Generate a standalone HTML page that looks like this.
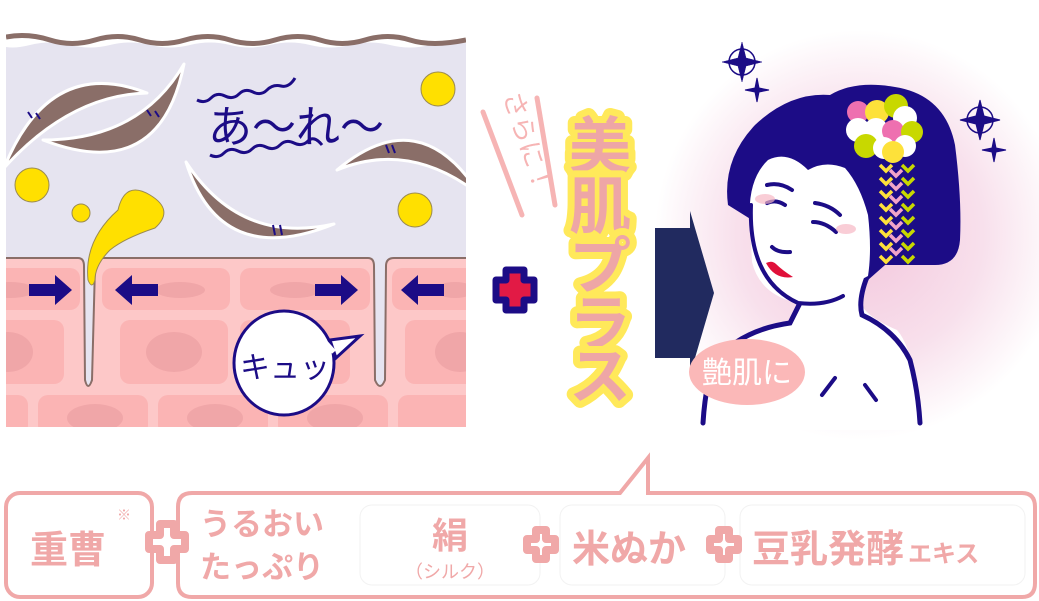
<!DOCTYPE html>
<html><head><meta charset="utf-8"><style>
html,body{margin:0;padding:0;background:#fff;}
svg{display:block;}
text{font-family:"Liberation Sans","Noto Sans CJK JP",sans-serif;}
</style></head><body>
<svg width="1039" height="601" viewBox="0 0 1039 601" xmlns="http://www.w3.org/2000/svg">
<defs>
<radialGradient id="glow" cx="0.5" cy="0.5" r="0.5">
<stop offset="0" stop-color="#f3c6dc"/><stop offset="0.6" stop-color="#f8e0ec"/><stop offset="1" stop-color="#ffffff"/>
</radialGradient>
<clipPath id="panel"><rect x="6" y="30" width="460" height="397"/></clipPath>
</defs>

<g clip-path="url(#panel)">
<rect x="6" y="30" width="460" height="397" fill="#e6e4f0"/>
<path d="M0 30 L470 30 L470 44 Q450 40 430 45 T390 45 T350 45 T310 45 T270 45 T230 45 T190 45 T150 45 T110 45 T70 45 T30 45 T0 45Z" fill="#fff"/>
<path d="M6 37 Q28 33 50 40 T95 40 T140 40 T185 40 T230 40 T275 40 T320 40 T365 40 T410 40 T466 40" fill="none" stroke="#8a6e68" stroke-width="5"/>
<rect x="6" y="258" width="460" height="170" fill="#fdc8c8"/>
<g fill="#fbb4b4">
<rect x="-20" y="268" width="100" height="42" rx="10"/><rect x="102" y="268" width="128" height="42" rx="10"/><rect x="240" y="268" width="130" height="42" rx="10"/><rect x="392" y="268" width="90" height="42" rx="10"/>
<rect x="-20" y="320" width="84" height="64" rx="10"/><rect x="120" y="320" width="108" height="64" rx="10"/><rect x="240" y="320" width="110" height="64" rx="10"/><rect x="405" y="320" width="80" height="64" rx="10"/>
<rect x="-20" y="395" width="48" height="40" rx="10"/><rect x="38" y="395" width="110" height="40" rx="10"/><rect x="158" y="395" width="110" height="40" rx="10"/><rect x="278" y="395" width="110" height="40" rx="10"/><rect x="398" y="395" width="80" height="40" rx="10"/>
</g>
<g fill="#f0a6a8">
<ellipse cx="10" cy="290" rx="25" ry="8"/><ellipse cx="180" cy="290" rx="25" ry="8"/><ellipse cx="295" cy="290" rx="25" ry="8"/><ellipse cx="455" cy="290" rx="20" ry="8"/>
<ellipse cx="8" cy="352" rx="25" ry="20"/><ellipse cx="174" cy="352" rx="28" ry="20"/><ellipse cx="300" cy="352" rx="28" ry="20"/><ellipse cx="460" cy="352" rx="25" ry="20"/>
<ellipse cx="95" cy="418" rx="28" ry="14"/><ellipse cx="215" cy="418" rx="28" ry="14"/><ellipse cx="335" cy="418" rx="28" ry="14"/>
</g>
<path d="M6 258 L78 258 Q84 258 84 266 L85 380 Q88 392 92 380 L95 266 Q95 258 102 258 L368 258 Q374 258 374 266 L375 380 Q380 392 385 380 L386 266 Q386 258 394 258 L466 258" fill="#e6e4f0" stroke="#8a6e68" stroke-width="2"/>
<g fill="#1c0c86">
<path d="M29 284 h26 v-9 l17 15 -17 15 v-9 h-26z"/>
<path d="M158 284 h-26 v-9 l-17 15 17 15 v-9 h26z"/>
<path d="M315 284 h26 v-9 l17 15 -17 15 v-9 h-26z"/>
<path d="M444 284 h-26 v-9 l-17 15 17 15 v-9 h26z"/>
</g>
<g fill="#8a6e68" stroke="#fff" stroke-width="3" stroke-linejoin="round">
<path d="M4 168 Q50 55 147 93 Q70 95 4 168Z"/>
<path d="M43 140 Q160 185 184 64 Q140 140 43 140Z"/>
<path d="M186 162 Q220 270 334 224 Q240 245 186 162Z"/>
<path d="M337 170 Q420 100 480 195 Q410 140 337 170Z"/>
</g>
<g stroke="#1c0c86" stroke-width="2" fill="none">
<path d="M28 112 l4 6 M36 113 l4 6"/><path d="M147 110 l4 6 M155 111 l4 6"/><path d="M273 225 l2 10 M280 225 l2 10"/><path d="M386 145 l3 8 M392 145 l3 8"/>
</g>
<g fill="#ffe000" stroke="#9a8a50" stroke-width="1">
<circle cx="32" cy="185" r="17"/><circle cx="81" cy="213" r="9"/><circle cx="438" cy="89" r="17"/><circle cx="415" cy="210" r="17"/>
<path d="M88 280 Q84 240 118 210 Q125 180 150 195 Q175 210 155 228 Q125 238 110 250 Q95 265 95 280 Q92 290 88 280Z"/>
</g>
<text x="208" y="142" font-size="44" fill="#1c0c86">あ〜れ〜</text>
<path d="M197 100 q8 4 14 -2 t14 -2 t14 -2 t14 -2 t14 -2 t14 -4 t14 -8" fill="none" stroke="#1c0c86" stroke-width="3"/>
<path d="M210 155 q8 4 14 -2 t14 -2 t14 -2 t14 -2 t14 -2 t14 -2 t14 -2 t14 4" fill="none" stroke="#1c0c86" stroke-width="3"/>
<path d="M330 340 L360 336 L336 358Z" fill="#fff" stroke="#1c0c86" stroke-width="3"/>
<ellipse cx="284" cy="363" rx="50" ry="52" fill="#fff" stroke="#1c0c86" stroke-width="3"/>
<path d="M325 342 L334 352" stroke="#fff" stroke-width="5"/>
<text x="240" y="378" font-size="30" fill="#1c0c86">キュッ</text>
</g>

<path d="M506 270 h18 v10 h10 v20 h-10 v10 h-18 v-10 h-10 v-20 h10z" fill="#e21a45" stroke="#1c0c86" stroke-width="7" stroke-linejoin="round"/>

<g stroke="#f6b4b4" stroke-width="5" stroke-linecap="round"><line x1="483" y1="112" x2="522" y2="215"/><line x1="537" y1="98" x2="555" y2="205"/></g>
<text transform="translate(503,95) rotate(72)" font-size="26" fill="#f6b4b4">さらに！</text>

<g font-size="62" font-weight="bold" fill="#eea6a6" stroke="#ffe95a" stroke-width="14" paint-order="stroke" stroke-linejoin="round" text-anchor="middle">
<text x="600" y="168">美</text><text x="600" y="228">肌</text><text x="600" y="288">プ</text><text x="600" y="346">ラ</text><text x="600" y="398">ス</text>
</g>

<circle cx="860" cy="235" r="205" fill="url(#glow)"/>
<path d="M655 228 h35 v-17 l24 82 -24 82 v-17 h-35z" fill="#212a5f"/>

<g fill="#1c0c86" stroke="#1c0c86">
<path d="M742 42 L746 58 L762 62 L746 66 L742 82 L738 66 L722 62 L738 58Z" stroke-width="0.5"/>
<circle cx="742" cy="62" r="13" fill="none" stroke-width="1.5"/>
<path d="M757 78 L759 88 L769 90 L759 92 L757 102 L755 92 L745 90 L755 88Z"/>
<path d="M980 100 L984 116 L1000 120 L984 124 L980 140 L976 124 L960 120 L976 116Z"/>
<circle cx="980" cy="120" r="13" fill="none" stroke-width="1.5"/>
<path d="M994 138 L996 148 L1006 150 L996 152 L994 162 L992 152 L982 150 L992 148Z"/>
</g>

<!-- shoulders -->
<path d="M800 303 L790 323 Q740 330 713 363 L703 430 L925 430 L920 423 Q915 350 897 330 Q862 315 860 300 L867 277Z" fill="#fff"/>
<path d="M800 303 L790 323 Q740 330 713 363 Q705 390 703 423" fill="none" stroke="#1c0c86" stroke-width="5" stroke-linecap="round"/>
<path d="M867 277 Q858 300 862 315 Q895 330 910 360 Q918 390 920 423" fill="none" stroke="#1c0c86" stroke-width="5" stroke-linecap="round"/>
<path d="M822 395 L835 378 M865 385 L876 400" stroke="#1c0c86" stroke-width="4" stroke-linecap="round"/>
<!-- hair -->
<path d="M728 205 Q722 160 755 125 Q790 92 830 95 Q855 80 895 87 Q945 95 955 145 Q962 200 960 240 Q958 265 935 265 L885 265 L868 280 L800 250 Z" fill="#1c0c86"/>
<!-- face -->
<path d="M750 222 Q747 180 768 160 Q788 150 808 170 Q825 160 845 168 Q860 185 868 215 Q872 250 868 276 Q850 285 845 296 Q815 305 798 303 Q760 295 752 262Z" fill="#fff"/>
<path d="M751 205 Q748 280 798 303 Q825 306 843 296" fill="none" stroke="#1c0c86" stroke-width="4" stroke-linecap="round"/>
<g stroke="#1c0c86" stroke-width="4" fill="none" stroke-linecap="round">
<path d="M767 185 Q780 182 792 190"/><path d="M767 203 Q776 199 785 205"/>
<path d="M815 203 Q830 205 840 215"/><path d="M813 222 Q825 222 836 232"/>
<path d="M772 247 Q778 253 790 252"/>
</g>
<ellipse cx="765" cy="199" rx="10" ry="5" fill="#f6b8c4" opacity="0.7"/><ellipse cx="846" cy="229" rx="10" ry="5" fill="#f6b8c4" opacity="0.7"/>
<path d="M766 263 Q772 260 776 264 Q782 270 793 277 Q775 280 766 263Z" fill="#e0103a"/>
<g>
<circle cx="858" cy="112" r="11" fill="#ee70b0"/><circle cx="877" cy="112" r="12" fill="#fde13a"/><circle cx="896" cy="106" r="12" fill="#c8d800"/>
<circle cx="858" cy="130" r="12" fill="#fff"/><circle cx="876" cy="130" r="12" fill="#fff"/><circle cx="905" cy="118" r="12" fill="#fff"/>
<circle cx="893" cy="131" r="11" fill="#ee70b0"/><circle cx="912" cy="132" r="11" fill="#c8d800"/>
<circle cx="866" cy="146" r="12" fill="#c8d800"/><circle cx="884" cy="148" r="11" fill="#fff"/><circle cx="905" cy="146" r="11" fill="#fff"/><circle cx="893" cy="152" r="11" fill="#fde13a"/>
<g stroke-width="3.5" fill="none">
<path d="M880 165 l6 6 6 -6 M880 178 l6 6 6 -6 M880 191 l6 6 6 -6 M880 204 l6 6 6 -6 M880 217 l6 6 6 -6 M880 230 l6 6 6 -6 M880 243 l6 6 6 -6 M880 256 l6 6 6 -6" stroke="#fde13a"/>
<path d="M890 170 l6 6 6 -6 M890 183 l6 6 6 -6 M890 196 l6 6 6 -6 M890 209 l6 6 6 -6 M890 222 l6 6 6 -6 M890 235 l6 6 6 -6 M890 248 l6 6 6 -6" stroke="#f2a4c8"/>
<path d="M902 165 l6 6 6 -6 M902 178 l6 6 6 -6 M902 191 l6 6 6 -6 M902 204 l6 6 6 -6 M902 217 l6 6 6 -6 M902 230 l6 6 6 -6 M902 243 l6 6 6 -6 M902 256 l6 6 6 -6" stroke="#c8d800"/>
</g>
</g>
<ellipse cx="747" cy="372" rx="58" ry="33" fill="#fbb8b8"/>
<text x="747" y="383" font-size="30" fill="#fff" text-anchor="middle">艶肌に</text>

<!-- BOTTOM -->
<g fill="none" stroke="#f0a8a8" stroke-width="4">
<rect x="6" y="493" width="146" height="104" rx="14"/>
<path d="M192 493 L620 493 L648 458 L648 493 L1022 493 Q1035 493 1035 507 L1035 583 Q1035 597 1022 597 L192 597 Q178 597 178 583 L178 507 Q178 493 192 493Z" fill="#fff"/>
</g>
<g fill="none" stroke="#f2f2f2" stroke-width="1">
<rect x="360" y="505" width="180" height="80" rx="12"/><rect x="560" y="505" width="165" height="80" rx="12"/><rect x="740" y="505" width="285" height="80" rx="12"/>
</g>
<g fill="#f0a8a8" font-size="38" font-weight="bold">
<text x="30" y="563">重曹</text>
<text x="117" y="520" font-size="14" font-weight="normal">※</text>
<text x="200" y="535" font-size="31">うるおい</text>
<text x="200" y="578" font-size="31">たっぷり</text>
<text x="450" y="548" font-size="36" text-anchor="middle">絹</text>
<text x="450" y="578" font-size="18" font-weight="normal" text-anchor="middle">（シルク）</text>
<text x="572" y="562">米ぬか</text>
<text x="752" y="562">豆乳発酵</text><text x="908" y="562" font-size="24">エキス</text>
</g>
<g fill="#fff" stroke="#f0a8a8" stroke-width="8" stroke-linejoin="round">
<path d="M160 524 h14 v11 h11 v14 h-11 v11 h-14 v-11 h-11 v-14 h11z"/>
<path d="M536 530 h10 v9 h9 v11 h-9 v9 h-10 v-9 h-9 v-11 h9z"/>
<path d="M719 530 h10 v9 h9 v11 h-9 v9 h-10 v-9 h-9 v-11 h9z"/>
</g>
</svg>
</body></html>
